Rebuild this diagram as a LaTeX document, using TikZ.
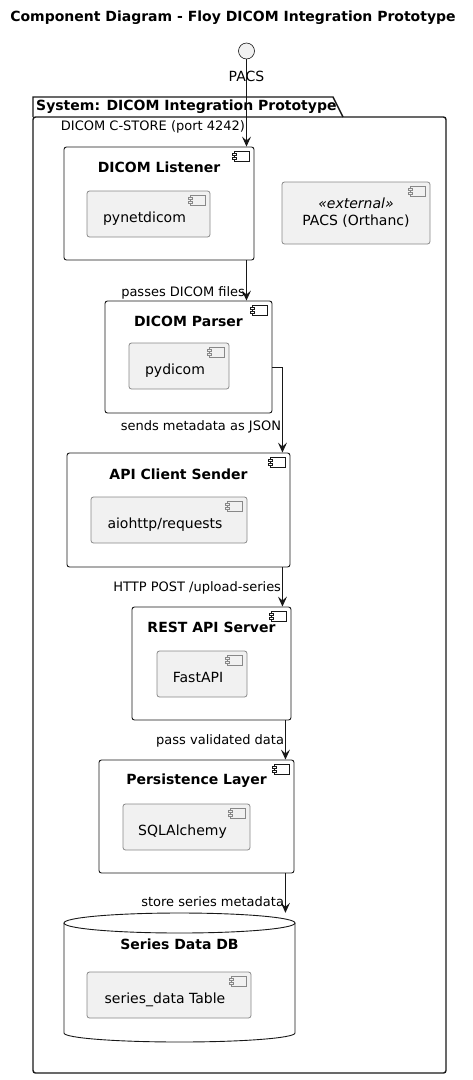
\documentclass[tikz,border=0pt]{standalone}
\usepackage{fontspec}
\setmainfont{DejaVu Sans}
\usepackage{tikz}
\usetikzlibrary{arrows.meta,calc}

\definecolor{umlline}{HTML}{181818}
\definecolor{umlfill}{HTML}{F1F1F1}
\definecolor{umlgray}{HTML}{888888}

\tikzset{
  comp/.style={draw=umlline, line width=0.9pt, fill=white, rounded corners=2.5pt, inner sep=0},
  extcomp/.style={draw=umlgray, line width=0.8pt, fill=umlfill, rounded corners=2.5pt,
    font=\fontsize{14}{17}\selectfont},
  subcomp/.style={extcomp, minimum height=46pt, text height=16pt, text depth=0pt,
    execute at end node=\hspace{8pt}},
  comptitle/.style={font=\bfseries\fontsize{14}{17}\selectfont, inner sep=0},
  flowlabel/.style={font=\fontsize{13}{15}\selectfont, inner sep=1pt},
  flow/.style={draw=umlline, line width=0.9pt, -{Stealth[length=10pt,width=9pt,inset=4pt]}},
}

\begin{document}
\begin{tikzpicture}[x=1pt, y=-1pt]
  \useasboundingbox (0,0) rectangle (472,1080);

  \def\compIcon#1#2#3{
    \draw[#2, line width=0.7pt, fill=#3] ([xshift=-20pt,yshift=-5pt]#1.north east) rectangle ++(15pt,-10pt);
    \foreach \dy in {-7pt,-11pt}
      \draw[#2, line width=0.7pt, fill=#3] ([xshift=-22pt,yshift=\dy]#1.north east) rectangle ++(4pt,-2pt);
  }

  \node[comptitle] (title) at (233,18) {Component Diagram - Floy DICOM Integration Prototype};

  % package frame
  \draw[umlline, line width=1.4pt, rounded corners=2.5pt] (33,117) rectangle (446,1073);
  \draw[umlline, line width=1.4pt] (33,117) -- (33,97) -- (333,97) -- (343,117);
  \node[comptitle, anchor=west] (pkgtitle) at (36,107) {System: DICOM Integration Prototype};

  % interface
  \node[circle, draw=umlline, fill=umlfill, line width=0.6pt, minimum size=16pt, inner sep=0] (pacs) at (246.5,51) {};
  \node[font=\fontsize{14}{17}\selectfont, inner sep=0] (pacslabel) at (246.5,76) {PACS};

  % components
  \node[comp, minimum width=190pt, minimum height=113pt] (listener) at (159,203.5) {};
  \node[comptitle] (listenerT) at ([yshift=-21pt]listener.north) {DICOM Listener};
  \node[subcomp, minimum width=123pt] (pynet) at (148.5,214) {pynetdicom};

  \node[comp, minimum width=167pt, minimum height=112pt] (parser) at (188.5,357) {};
  \node[comptitle] (parserT) at ([yshift=-21pt]parser.north) {DICOM Parser};
  \node[subcomp, minimum width=100pt] (pydicom) at (179,366) {pydicom};

  \node[comp, minimum width=223pt, minimum height=114pt] (api) at (178.5,510) {};
  \node[comptitle] (apiT) at ([yshift=-22pt]api.north) {API Client Sender};
  \node[subcomp, minimum width=156pt] (aiohttp) at (169,520) {aiohttp/requests};

  \node[comp, minimum width=159pt, minimum height=113pt] (rest) at (211.5,663.5) {};
  \node[comptitle] (restT) at ([yshift=-21pt]rest.north) {REST API Server};
  \node[subcomp, minimum width=90pt] (fastapi) at (202,674) {FastAPI};

  \node[comp, minimum width=195pt, minimum height=113pt] (persist) at (196.5,816.5) {};
  \node[comptitle] (persistT) at ([yshift=-21pt]persist.north) {Persistence Layer};
  \node[subcomp, minimum width=127pt] (sqla) at (186.5,827) {SQLAlchemy};

  \node[extcomp, minimum width=148pt, minimum height=62pt, align=center, inner sep=0] (orthanc) at (356,213)
    {{\itshape «external»}\\PACS (Orthanc)\hspace{10pt}};

  % database
  \node[minimum width=231pt, minimum height=129pt, inner sep=0] (db) at (179.5,977.5) {};
  \draw[umlline, line width=0.9pt, fill=white] (64,923) -- (64,1033)
    arc[start angle=180, end angle=360, x radius=115.5pt, y radius=9pt] -- (295,923);
  \draw[umlline, line width=0.9pt, fill=white] (179.5,923) ellipse[x radius=115.5pt, y radius=10pt];
  \node[comptitle] (dbT) at (179.5,944) {Series Data DB};
  \node[subcomp, minimum width=164pt] (seriestab) at (169,995) {series\_data Table};

  \compIcon{listener}{umlline}{white}
  \compIcon{parser}{umlline}{white}
  \compIcon{api}{umlline}{white}
  \compIcon{rest}{umlline}{white}
  \compIcon{persist}{umlline}{white}
  \compIcon{pynet}{umlgray}{umlfill}
  \compIcon{pydicom}{umlgray}{umlfill}
  \compIcon{aiohttp}{umlgray}{umlfill}
  \compIcon{fastapi}{umlgray}{umlfill}
  \compIcon{sqla}{umlgray}{umlfill}
  \compIcon{seriestab}{umlgray}{umlfill}
  \compIcon{orthanc}{umlgray}{umlfill}

  % connectors
  \coordinate (l2p) at ([xshift=-8pt]listener.south east);
  \coordinate (a2r) at ([xshift=-8pt]api.south east);
  \coordinate (r2p) at ([xshift=-6pt]rest.south east);
  \coordinate (p2d) at ([xshift=-9pt]persist.south east);

  \draw[flow] (pacs) -- (pacs |- listener.north)
    node[flowlabel, pos=0.77, anchor=east] {DICOM C-STORE (port 4242)};
  \draw[flow] (l2p) -- (l2p |- parser.north)
    node[flowlabel, pos=0.8, anchor=east] {passes DICOM files};
  \draw[flow] ([yshift=-10pt]parser.east) -| ([xshift=-8pt]api.north east)
    node[flowlabel, pos=0.85, anchor=east] {sends metadata as JSON};
  \draw[flow] (a2r) -- (a2r |- rest.north)
    node[flowlabel, pos=0.52, anchor=east] {HTTP POST /upload-series};
  \draw[flow] (r2p) -- (r2p |- persist.north)
    node[flowlabel, pos=0.52, anchor=east] {pass validated data};
  \draw[flow] (p2d) -- (p2d |- db.north)
    node[flowlabel, pos=0.72, anchor=east] {store series metadata};
\end{tikzpicture}
\end{document}
